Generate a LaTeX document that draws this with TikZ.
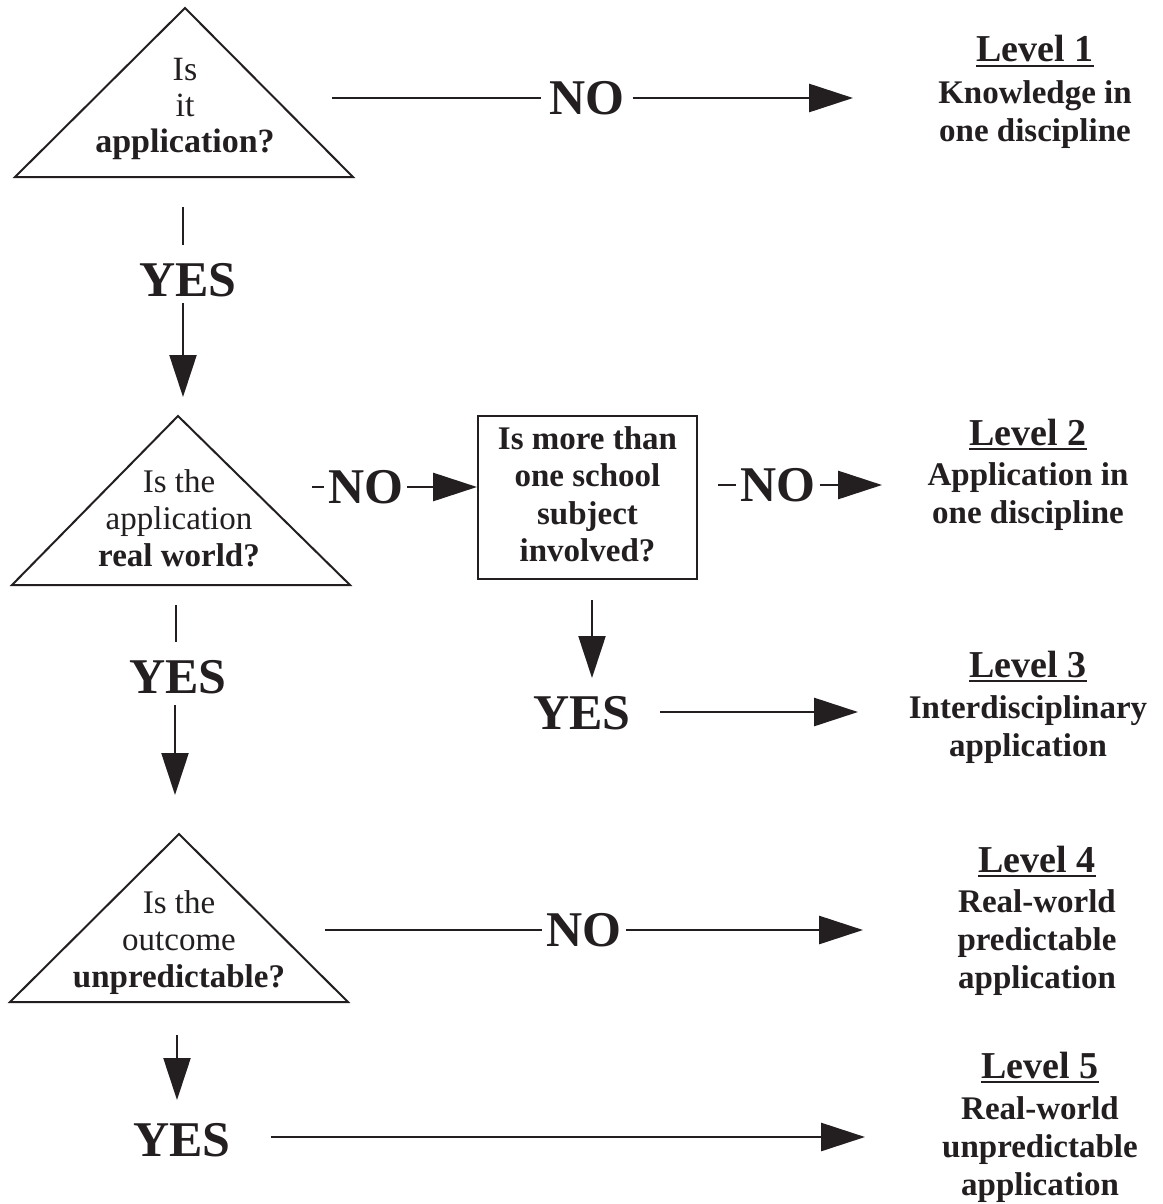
\documentclass[tikz,border=0pt]{standalone}
\usepackage{fontspec}
\setmainfont{Liberation Serif}
\usetikzlibrary{arrows.meta}
\definecolor{ink}{RGB}{35,31,32}
\newcommand{\lul}[1]{\setbox0\hbox{#1}\rlap{\rule[-5pt]{\wd0}{1.8pt}}\box0}
\tikzset{
  tri/.style={draw=ink, line width=2pt, line join=miter},
  qbox/.style={draw=ink, line width=2pt},
  hline/.style={draw=ink, line width=2.8pt},
  harr/.style={draw=ink, line width=2.8pt, -{Triangle[length=44pt,width=28pt]}},
  vline/.style={draw=ink, line width=2.2pt},
  varr/.style={draw=ink, line width=2.2pt, -{Triangle[length=42pt,width=27pt]}},
  qtext/.style={text=ink, align=center, inner sep=0pt, anchor=base, font=\fontsize{33}{37}\selectfont},
  lvl/.style={text=ink, align=center, inner sep=0pt, anchor=base, font=\fontsize{33}{38}\selectfont\bfseries},
  bigword/.style={text=ink, inner ysep=0pt, inner xsep=4pt, font=\fontsize{50}{52}\selectfont\bfseries},
}
\begin{document}
\begin{tikzpicture}[x=1pt,y=-1pt]
\useasboundingbox[fill=white] (0,0) rectangle (1162,1204);

% ---------- decision 1 ----------
\coordinate (t1a) at (185,8);
\coordinate (t1l) at (15,177);
\coordinate (t1r) at (353,177);
\draw[tri] (t1a) -- (t1l) -- (t1r) -- cycle;
\node[qtext, font=\fontsize{34}{36.5}\selectfont] (q1) at (185,153) {Is\\ it\\ \textbf{application?}};

\node[bigword, inner xsep=8pt] (no1) at (587,98) {NO};
\coordinate (n1s) at (332,98);
\coordinate (n1e) at (853,98);
\draw[hline] (n1s) -- (no1.west);
\draw[harr] (no1.east) -- (n1e);

\node[lvl] (lv1) at (1035,142) {{\fontsize{38}{40}\selectfont\lul{Level 1}}\\[4pt] Knowledge in\\ one discipline};

\node[bigword] (yes1) at (188,280) {YES};
\coordinate (y1a) at (183,207);
\coordinate (y1b) at (183,245);
\coordinate (y1c) at (183,303);
\coordinate (y1d) at (183,397);
\draw[vline] (y1a) -- (y1b);
\draw[varr] (y1c) -- (y1d);

% ---------- decision 2 ----------
\coordinate (t2a) at (178,416);
\coordinate (t2l) at (12,585);
\coordinate (t2r) at (350,585);
\draw[tri] (t2a) -- (t2l) -- (t2r) -- cycle;
\node[qtext] (q2) at (179,566) {Is the\\ application\\ \textbf{real world?}};

\node[qbox, minimum width=219pt, minimum height=163pt, inner sep=0pt] (box) at (587.5,497.5) {};
\node[qtext, font=\fontsize{33}{37.5}\selectfont\bfseries] (boxt) at (587.5,561.5) {Is more than\\ one school\\ subject\\ involved?};

\node[bigword] (no2) at (365.5,487) {NO};
\coordinate (n2s) at (312,487);
\draw[hline] (n2s) -- (no2.west);
\draw[harr] (no2.east) -- (box.west |- no2.east);

\node[bigword] (no3) at (778,485) {NO};
\coordinate (n3e) at (882,485);
\draw[hline] (box.east |- no3.west) ++(20,0) -- (no3.west);
\draw[harr] (no3.east) -- (n3e);

\node[lvl] (lv2) at (1028,523) {{\fontsize{38}{40}\selectfont\lul{Level 2}}\\[2pt] Application in\\ one discipline};

\node[bigword] (yes3) at (582,713) {YES};
\coordinate (b1) at (592,600);
\coordinate (b2) at (592,678);
\draw[varr] (b1) -- (b2);
\coordinate (n5e) at (858,712);
\draw[harr] ([xshift=25pt]yes3.east |- n5e) -- (n5e);

\node[lvl] (lv3) at (1028,756) {{\fontsize{38}{40}\selectfont\lul{Level 3}}\\[3pt] Interdisciplinary\\ application};

\node[bigword] (yes2) at (178,677) {YES};
\coordinate (y2a) at (176,605);
\coordinate (y2b) at (176,642);
\coordinate (y2c) at (175,705);
\coordinate (y2d) at (175,795);
\draw[vline] (y2a) -- (y2b);
\draw[varr] (y2c) -- (y2d);

% ---------- decision 3 ----------
\coordinate (t3a) at (179,834);
\coordinate (t3l) at (10,1002);
\coordinate (t3r) at (348,1002);
\draw[tri] (t3a) -- (t3l) -- (t3r) -- cycle;
\node[qtext] (q3) at (179,987) {Is the\\ outcome\\ \textbf{unpredictable?}};

\node[bigword] (no4) at (584,930) {NO};
\coordinate (n4s) at (325,930);
\coordinate (n4e) at (863,930);
\draw[hline] (n4s) -- (no4.west);
\draw[harr] (no4.east) -- (n4e);

\node[lvl] (lv4) at (1037,988) {{\fontsize{38}{40}\selectfont\lul{Level 4}}\\[2pt] Real-world\\ predictable\\ application};

\node[bigword] (yes5) at (182,1140) {YES};
\coordinate (y3a) at (177,1035);
\coordinate (y3b) at (177,1100);
\draw[varr] (y3a) -- (y3b);
\coordinate (n6e) at (865,1137);
\draw[harr] ([xshift=36pt]yes5.east |- n6e) -- (n6e);

\node[lvl] (lv5) at (1040,1195) {{\fontsize{38}{40}\selectfont\lul{Level 5}}\\[3pt] Real-world\\ unpredictable\\ application};
\end{tikzpicture}
\end{document}
